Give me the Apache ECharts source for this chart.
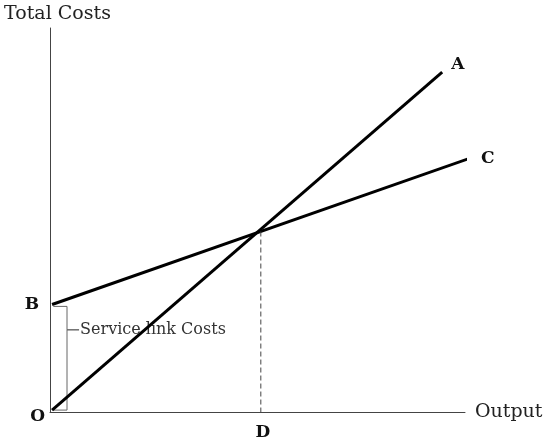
<!DOCTYPE html>
<html>
<head>
<meta charset="utf-8">
<script src="https://cdn.jsdelivr.net/npm/echarts@6/dist/echarts.min.js"></script>
<style>
    html, body { margin: 0; padding: 0; background: #fff; }
    #chart { width: 550px; height: 442px; }
</style>
</head>
<body>
<div id="chart"></div>
<script>
// cost lines, in axis units (0..100 on both axes)
const lineA = [[0.5, 0.5], [94.5, 88.5]];
const lineC = [[0.5, 28], [101.2, 66.1]];
const dropD = [[50.8, 47], [50.8, 0]];
// brace for the service link costs, from B down to O
const brace = [[0.8, 27.5], [4.1, 27.5], [4.1, 21.4], [7, 21.4], [4.1, 21.4], [4.1, 0.5], [0.8, 0.5]];

const serif = 'DejaVu Serif';
const letter = { show: true, fontFamily: serif, fontSize: 17, fontWeight: 'bold', color: '#111' };

const chart = echarts.init(document.querySelector('#chart'));

// labels need a symbol to hang on, so keep one with size 0
const hidden = { symbol: 'circle', symbolSize: 0, showSymbol: true };

const option = {
    animation: false,
    grid: { left: 50, right: 85, top: 28, bottom: 30, outerBoundsMode: 'none' },
    xAxis: {
        type: 'value',
        min: 0,
        max: 100,
        name: 'Output',
        nameLocation: 'end',
        nameGap: 10,
        nameTextStyle: { fontFamily: serif, fontSize: 19, color: '#222', verticalAlign: 'middle' },
        axisLine: { show: true, lineStyle: { color: '#444', width: 1 } },
        axisTick: { show: false },
        axisLabel: { show: false },
        splitLine: { show: false },
    },
    yAxis: {
        type: 'value',
        min: 0,
        max: 100,
        name: 'Total Costs',
        nameLocation: 'end',
        nameGap: 4,
        nameTextStyle: { fontFamily: serif, fontSize: 19, color: '#222', padding: [0, 0, 0, 15] },
        axisLine: { show: true, lineStyle: { color: '#444', width: 1 } },
        axisTick: { show: false },
        axisLabel: { show: false },
        splitLine: { show: false },
    },
    series: [
        {
            type: 'line',
            ...hidden,
            clip: false,
            lineStyle: { color: '#000', width: 3 },
            data: [
                { value: lineA[0], label: { ...letter, formatter: 'O', position: 'left', offset: [-2, 6] } },
                { value: lineA[1], label: { ...letter, formatter: 'A', position: 'right', offset: [4, -8] } },
            ],
        },
        {
            type: 'line',
            ...hidden,
            clip: false,
            lineStyle: { color: '#000', width: 3 },
            data: [
                { value: lineC[0], label: { ...letter, formatter: 'B', position: 'left', offset: [-8, 0] } },
                { value: lineC[1], label: { ...letter, formatter: 'C', position: 'right', offset: [6, 0] } },
            ],
        },
        {
            type: 'line',
            ...hidden,
            lineStyle: { color: '#444', width: 1, type: [5, 3] },
            data: [
                { value: dropD[0] },
                { value: dropD[1], label: { ...letter, formatter: 'D', position: 'bottom', distance: 12, offset: [2, 0] } },
            ],
        },
        {
            type: 'line',
            ...hidden,
            z: 1,
            lineStyle: { color: '#666', width: 1 },
            data: brace.map((p, i) => i === 3
                ? { value: p, label: { show: true, formatter: 'Service link Costs', position: 'right', distance: 1, fontFamily: serif, fontSize: 16, color: '#333' } }
                : { value: p }),
        },
    ],
};

option && chart.setOption(option);
</script>
</body>
</html>
